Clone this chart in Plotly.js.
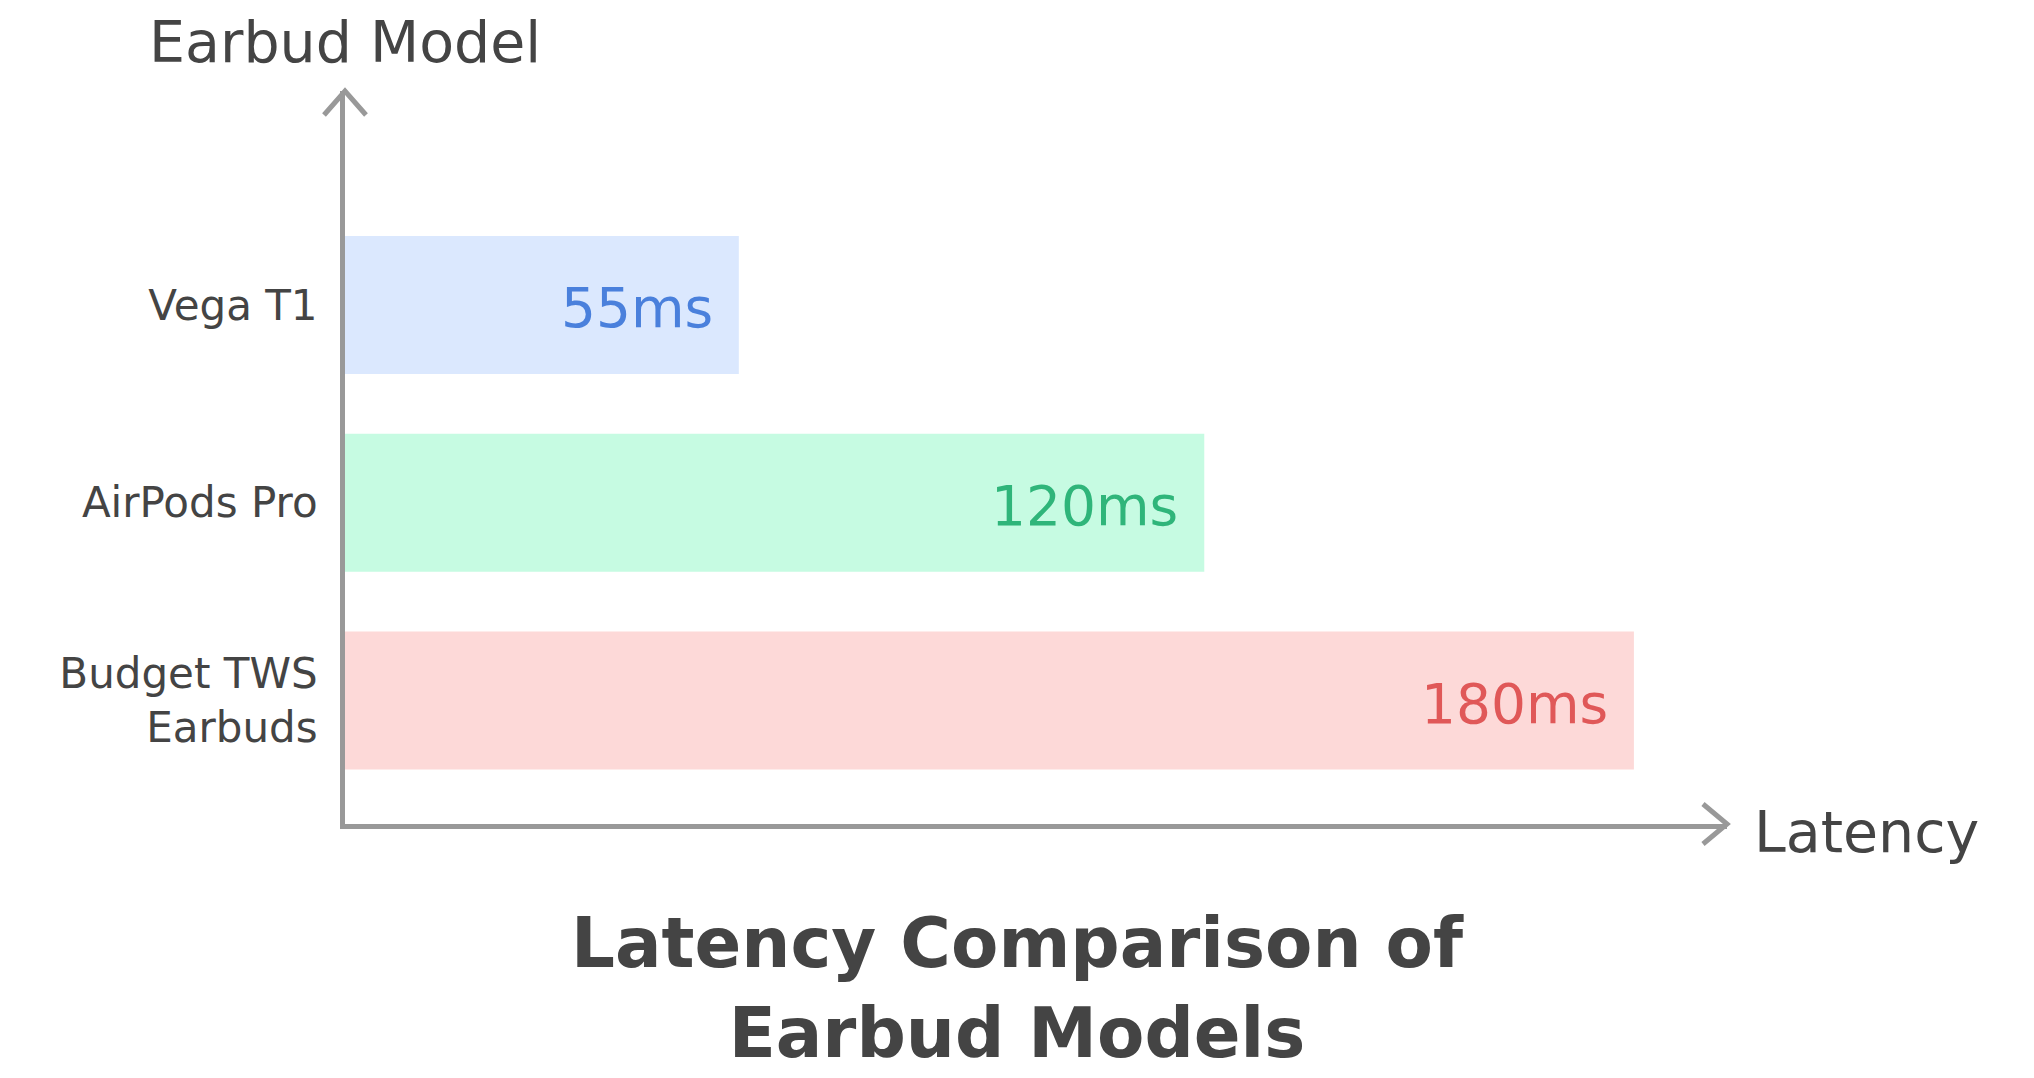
<!DOCTYPE html>
<html>
<head>
<meta charset="utf-8">
<script src="https://cdn.plot.ly/plotly-3.0.1.min.js"></script>
<style>
  html, body { margin: 0; padding: 0; background: #ffffff; }
  #chart { width: 2034px; height: 1078px; }
</style>
</head>
<body>
<div id="chart"></div>
<script>
// chart data
var models = ['Vega T1', 'AirPods Pro', 'Budget TWS<br>Earbuds'];
var latencyMs = [55, 120, 180];
var valueLabels = ['55ms', '120ms', '180ms'];
var fillColors = ['#dbe8fe', '#c6fbe2', '#fdd9d8'];
var labelColors = ['#4a80dc', '#2fb57a', '#e05858'];

var FONT = 'DejaVu Sans, Open Sans, sans-serif';
var INK = '#444444';
var AXIS = '#999999';

var trace = {
    type: 'bar',
    orientation: 'h',
    x: latencyMs,
    y: models,
    marker: { color: fillColors, line: { width: 0 } },
    hoverinfo: 'skip'
};

// value labels sit inside the bar ends
var annotations = models.map(function (m, i) {
    return {
        x: latencyMs[i], y: m, xref: 'x', yref: 'y',
        text: valueLabels[i], showarrow: false,
        xanchor: 'right', yanchor: 'middle', xshift: -24, yshift: -3,
        font: { family: FONT, size: 55, color: labelColors[i] }
    };
});

// axis titles
annotations.push({
    xref: 'paper', yref: 'paper', x: 0, y: 1,
    text: 'Earbud Model', showarrow: false,
    xanchor: 'center', yanchor: 'middle', yshift: 49,
    font: { family: FONT, size: 57, color: INK }
});
annotations.push({
    xref: 'paper', yref: 'paper', x: 1, y: 0,
    text: 'Latency', showarrow: false,
    xanchor: 'left', yanchor: 'middle', xshift: 25, yshift: -8,
    font: { family: FONT, size: 57, color: INK }
});

// open chevron arrow heads on the axis ends
var shapes = [
    {
        type: 'path', xref: 'paper', yref: 'paper',
        xsizemode: 'pixel', ysizemode: 'pixel', xanchor: 1, yanchor: 0,
        path: 'M-24,20 L0,0 L-24,-20',
        line: { color: AXIS, width: 5 }
    },
    {
        type: 'path', xref: 'paper', yref: 'paper',
        xsizemode: 'pixel', ysizemode: 'pixel', xanchor: 0, yanchor: 1,
        path: 'M-21,-24 L0,0 L21,-24',
        line: { color: AXIS, width: 5 }
    }
];

var layout = {
    width: 2034,
    height: 1078,
    autosize: false,
    margin: { l: 345, r: 307, t: 91, b: 254, pad: 0 },
    paper_bgcolor: '#ffffff',
    plot_bgcolor: '#ffffff',
    showlegend: false,
    bargap: 0.302,
    font: { family: FONT, color: INK },
    title: {
        text: '<b>Latency Comparison of<br>Earbud Models</b>',
        xref: 'container', x: 0.5, xanchor: 'center',
        yref: 'container', y: 0.103, yanchor: 'middle',
        font: { family: FONT, size: 69, color: INK }
    },
    xaxis: {
        range: [0, 193],
        showticklabels: false, showgrid: false, zeroline: false,
        showline: true, linecolor: AXIS, linewidth: 5,
        ticks: ''
    },
    yaxis: {
        type: 'category',
        categoryorder: 'array',
        categoryarray: models.slice().reverse(),
        range: [-0.6245, 3.082],
        showgrid: false, zeroline: false,
        showline: true, linecolor: AXIS, linewidth: 5,
        ticks: 'outside', ticklen: 14, tickcolor: 'rgba(0,0,0,0)',
        tickfont: { family: FONT, size: 42, color: INK }
    },
    annotations: annotations,
    shapes: shapes
};

Plotly.newPlot('chart', [trace], layout, { displayModeBar: false, staticPlot: true });
</script>
</body>
</html>
